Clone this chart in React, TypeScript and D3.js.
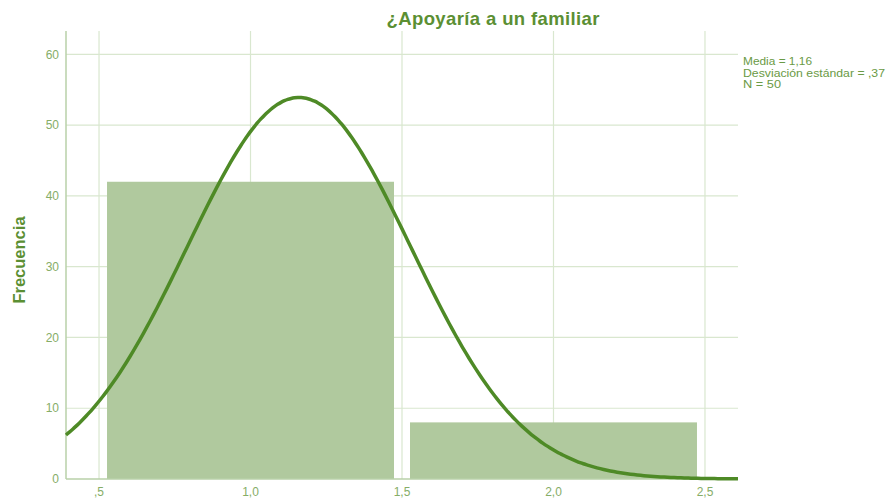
import React, { useRef, useEffect } from 'react';
import * as d3 from 'd3';

// histogram bins (lower edge, upper edge, count)
const binStarts = [0.5, 1.5];
const binEnds = [1.5, 2.5];
const binCounts = [42, 8];

const xTicks = [0.5, 1.0, 1.5, 2.0, 2.5];
const xTickLabels = [',5', '1,0', '1,5', '2,0', '2,5'];
const yTicks = [0, 10, 20, 30, 40, 50, 60];

const mean = 1.16;
const sd = 0.37;
const n = 50;
const statLines = ['Media = 1,16', 'Desviación estándar = ,37', 'N = 50'];

const App: React.FC = () => {
  const svgRef = useRef<SVGSVGElement>(null);

  useEffect(() => {
    if (!svgRef.current) return;
    const width = 895;
    const height = 501;
    const margin = { left: 66, right: 157, top: 31, bottom: 22 };

    const svg = d3.select(svgRef.current);
    svg.selectAll('*').remove();

    const x = d3.scaleLinear()
      .domain([0.391, 2.609])
      .range([margin.left, width - margin.right]);
    const y = d3.scaleLinear()
      .domain([0, 63.3])
      .range([height - margin.bottom, margin.top]);

    const grid = '#d9e7cf';
    const axisCol = '#b9d1a8';
    const tickCol = '#86ad67';

    // grid
    svg.append('g')
      .selectAll('line')
      .data(yTicks.filter(d => d > 0))
      .join('line')
      .attr('x1', margin.left).attr('x2', width - margin.right)
      .attr('y1', d => y(d)).attr('y2', d => y(d))
      .attr('stroke', grid).attr('stroke-width', 1.2);
    svg.append('g')
      .selectAll('line')
      .data(xTicks)
      .join('line')
      .attr('x1', d => x(d)).attr('x2', d => x(d))
      .attr('y1', margin.top).attr('y2', height - margin.bottom)
      .attr('stroke', grid).attr('stroke-width', 1.2);

    // bars
    const inset = 8;
    svg.append('g')
      .selectAll('rect')
      .data(binCounts)
      .join('rect')
      .attr('x', (_, i) => x(binStarts[i]) + inset)
      .attr('width', (_, i) => x(binEnds[i]) - x(binStarts[i]) - 2 * inset)
      .attr('y', d => y(d))
      .attr('height', d => y(0) - y(d))
      .attr('fill', '#b0c99e');

    // axes
    svg.append('line')
      .attr('x1', margin.left).attr('x2', margin.left)
      .attr('y1', margin.top).attr('y2', y(0))
      .attr('stroke', axisCol).attr('stroke-width', 1.5);
    svg.append('line')
      .attr('x1', margin.left).attr('x2', width - margin.right)
      .attr('y1', y(0)).attr('y2', y(0))
      .attr('stroke', axisCol).attr('stroke-width', 1.5);

    // normal curve
    const binW = binEnds[0] - binStarts[0];
    const pdf = (v: number) =>
      n * binW / (sd * Math.sqrt(2 * Math.PI)) * Math.exp(-0.5 * ((v - mean) / sd) ** 2);
    const xs = d3.range(0, 201).map(i => x.domain()[0] + (x.domain()[1] - x.domain()[0]) * i / 200);
    const line = d3.line<number>().x(d => x(d)).y(d => y(pdf(d))).curve(d3.curveBasis);
    svg.append('path')
      .datum(xs)
      .attr('d', line)
      .attr('fill', 'none')
      .attr('stroke', '#4e8a26')
      .attr('stroke-width', 3.5);

    // tick labels
    svg.append('g')
      .selectAll('text')
      .data(yTicks)
      .join('text')
      .attr('x', margin.left - 7)
      .attr('y', d => y(d))
      .attr('dy', '0.35em')
      .attr('text-anchor', 'end')
      .attr('font-size', 12)
      .attr('fill', tickCol)
      .text(d => d);
    svg.append('g')
      .selectAll('text')
      .data(xTicks)
      .join('text')
      .attr('x', d => x(d))
      .attr('y', height - 5)
      .attr('text-anchor', 'middle')
      .attr('font-size', 12)
      .attr('fill', tickCol)
      .text((_, i) => xTickLabels[i]);

    // titles
    svg.append('text')
      .attr('x', 493).attr('y', 25)
      .attr('text-anchor', 'middle')
      .attr('font-size', 18.5)
      .attr('font-weight', 'bold')
      .attr('fill', '#5b8f33')
      .attr('textLength', 213)
      .text('¿Apoyaría a un familiar');
    svg.append('text')
      .attr('transform', 'translate(25,260) rotate(-90)')
      .attr('text-anchor', 'middle')
      .attr('font-size', 16.5)
      .attr('font-weight', 'bold')
      .attr('fill', '#5b8f33')
      .text('Frecuencia');

    svg.append('g')
      .selectAll('text')
      .data(statLines)
      .join('text')
      .attr('x', 743)
      .attr('y', (_, i) => 65 + i * 11.5)
      .attr('font-size', 10.5)
      .attr('fill', '#6a9a45')
      .attr('textLength', (_, i) => [69, 142, 38][i])
      .attr('lengthAdjust', 'spacingAndGlyphs')
      .text(d => d);
  }, []);

  return (
    <svg ref={svgRef} width={895} height={501}
      style={{ position: 'absolute', left: 0, top: 0, fontFamily: 'Liberation Sans, Arial, sans-serif', background: '#fff' }} />
  );
};

export default App;
